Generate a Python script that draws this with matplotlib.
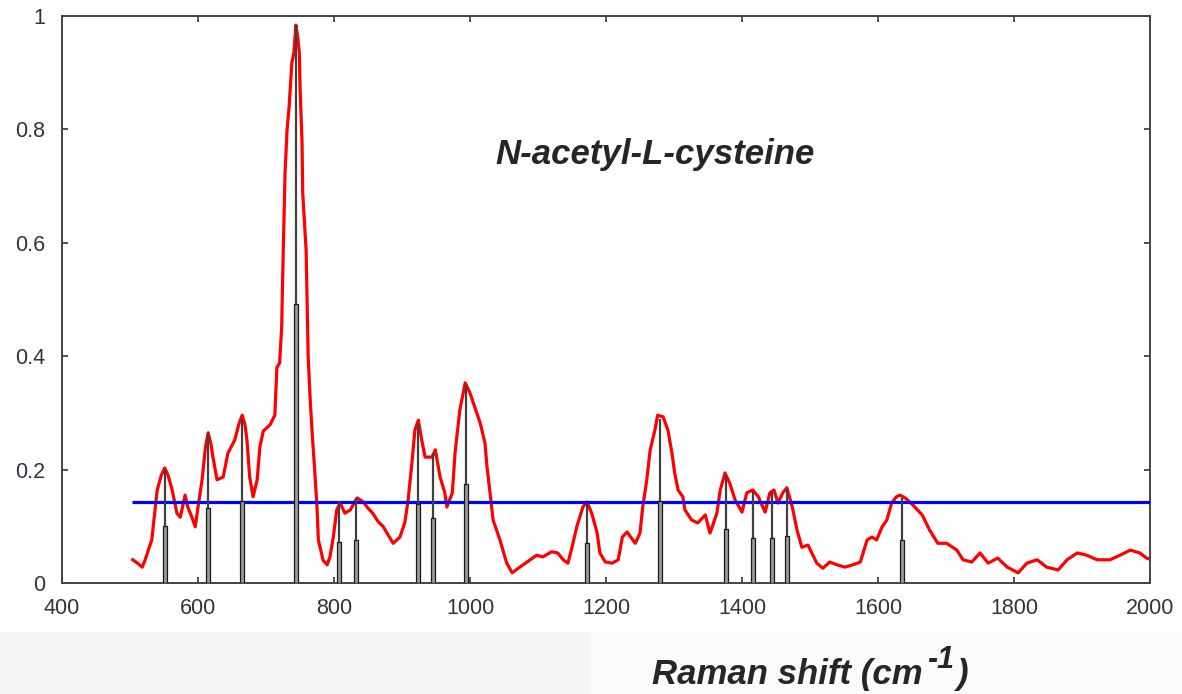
import numpy as np
import matplotlib.pyplot as plt
from matplotlib.patches import Rectangle

plt.rcParams['font.family'] = ['Liberation Sans', 'DejaVu Sans']

# measured Raman spectrum (normalised intensity)
shift = [504, 511, 518, 522, 532, 540, 546, 551, 556, 562, 569, 574, 581, 585, 591, 596,
         600, 606, 611, 615, 619, 622, 628, 637, 644, 654, 660, 665, 669, 672, 676, 681,
         687, 691, 696, 706, 713, 716, 720, 723, 725, 728, 731, 734, 738, 741, 744, 747,
         749, 750, 753, 754, 759, 762, 765, 768, 771, 775, 777, 784, 790, 794, 799, 804,
         809, 816, 824, 834, 843, 850, 857, 865, 872, 878, 887, 897, 904, 909, 915, 919,
         924, 929, 934, 944, 949, 956, 963, 966, 974, 978, 985, 993, 1000, 1007, 1015, 1022,
         1025, 1029, 1034, 1044, 1054, 1062, 1071, 1084, 1098, 1107, 1120, 1129, 1137, 1144,
         1150, 1157, 1166, 1172, 1179, 1187, 1191, 1199, 1209, 1218, 1224, 1231, 1243, 1250,
         1254, 1260, 1265, 1272, 1276, 1284, 1291, 1297, 1301, 1306, 1313, 1316, 1326, 1335,
         1346, 1353, 1363, 1368, 1375, 1382, 1390, 1400, 1407, 1416, 1424, 1434, 1441, 1447,
         1453, 1460, 1466, 1474, 1481, 1488, 1497, 1510, 1519, 1529, 1540, 1551, 1563, 1574,
         1584, 1591, 1598, 1606, 1613, 1620, 1627, 1632, 1640, 1651, 1665, 1676, 1688, 1701,
         1716, 1725, 1738, 1750, 1762, 1776, 1790, 1806, 1819, 1834, 1848, 1865, 1878, 1893,
         1907, 1922, 1941, 1956, 1971, 1985, 1995, 2000]
intensity = [0.041, 0.035, 0.028, 0.040, 0.076, 0.164, 0.190, 0.203, 0.190, 0.164, 0.123, 0.116,
             0.155, 0.134, 0.116, 0.099, 0.134, 0.182, 0.240, 0.265, 0.245, 0.222, 0.182, 0.187,
             0.229, 0.252, 0.280, 0.296, 0.280, 0.252, 0.187, 0.152, 0.182, 0.240, 0.268, 0.279,
             0.296, 0.380, 0.388, 0.450, 0.566, 0.723, 0.800, 0.840, 0.917, 0.935, 0.984, 0.960,
             0.935, 0.878, 0.776, 0.688, 0.587, 0.400, 0.323, 0.262, 0.210, 0.134, 0.076, 0.040,
             0.032, 0.046, 0.081, 0.129, 0.141, 0.123, 0.129, 0.150, 0.143, 0.132, 0.123, 0.108,
             0.100, 0.088, 0.070, 0.081, 0.106, 0.146, 0.217, 0.270, 0.287, 0.252, 0.222, 0.222,
             0.235, 0.187, 0.159, 0.134, 0.159, 0.229, 0.305, 0.353, 0.335, 0.310, 0.282, 0.247,
             0.205, 0.164, 0.111, 0.076, 0.035, 0.018, 0.026, 0.037, 0.049, 0.046, 0.055, 0.053,
             0.041, 0.035, 0.063, 0.099, 0.134, 0.143, 0.123, 0.088, 0.053, 0.037, 0.035, 0.041,
             0.081, 0.090, 0.070, 0.088, 0.134, 0.182, 0.235, 0.270, 0.296, 0.293, 0.270, 0.229,
             0.194, 0.164, 0.152, 0.129, 0.111, 0.106, 0.120, 0.088, 0.123, 0.164, 0.194, 0.176,
             0.146, 0.125, 0.159, 0.164, 0.152, 0.125, 0.159, 0.164, 0.141, 0.159, 0.168, 0.134,
             0.093, 0.063, 0.067, 0.035, 0.026, 0.037, 0.032, 0.028, 0.032, 0.037, 0.076, 0.081,
             0.076, 0.099, 0.111, 0.141, 0.152, 0.155, 0.150, 0.138, 0.120, 0.093, 0.070, 0.070,
             0.058, 0.041, 0.037, 0.053, 0.035, 0.044, 0.028, 0.018, 0.035, 0.041, 0.028, 0.023,
             0.041, 0.053, 0.049, 0.041, 0.041, 0.049, 0.058, 0.053, 0.044, 0.042]

# assigned bands
peak_pos = [551, 615, 665, 744, 807, 833, 923, 946, 994, 1172, 1280, 1376, 1416, 1444, 1466, 1635]
peak_height = [0.20, 0.265, 0.29, 0.985, 0.145, 0.15, 0.28, 0.23, 0.35, 0.14, 0.29, 0.19,
               0.16, 0.16, 0.165, 0.15]

threshold = 0.143
threshold_start = 503

xticks = [400, 600, 800, 1000, 1200, 1400, 1600, 1800, 2000]
yticks = [0, 0.2, 0.4, 0.6, 0.8, 1]

W, H = 1182, 694
fig = plt.figure(figsize=(W / 100, H / 100), dpi=100)
# light strip under the plot
fig.patches.append(Rectangle((0, 0), 590 / W, 62 / H, transform=fig.transFigure,
                             facecolor='#f5f5f5', edgecolor='none', zorder=0))
fig.patches.append(Rectangle((590 / W, 0), 1 - 590 / W, 62 / H, transform=fig.transFigure,
                             facecolor='#fbfbfb', edgecolor='none', zorder=0))

ax = fig.add_axes([62 / W, 111 / H, 1088 / W, 567 / H])

ax.plot(shift, intensity, color='#ff0000', lw=2.3, zorder=2)
ax.hlines(threshold, threshold_start, 2000, color='#0000ff', lw=2.3, zorder=3)

ph = np.array(peak_height)
ax.vlines(peak_pos, 0, ph, color='#404040', lw=1.6, zorder=4)
ax.bar(peak_pos, ph / 2, width=6, facecolor='#9a9a9a', edgecolor='#1a1a1a', lw=0.9, zorder=4)

ax.set_xlim(400, 2000)
ax.set_ylim(0, 1)
ax.set_xticks(xticks)
ax.set_yticks(yticks)
ax.set_yticklabels(['%g' % v for v in yticks])
ax.tick_params(direction='in', length=4, width=1.2, top=True, right=True,
               labelsize=15.5, labelcolor='#333340', color='#333333')
ax.tick_params(axis='x', pad=11)
ax.tick_params(axis='y', pad=12)
for s in ax.spines.values():
    s.set_color('#444444')
    s.set_linewidth(1.4)

ax.text(0.5455, 0.755, 'N-acetyl-L-cysteine', transform=ax.transAxes, ha='center', va='center',
        fontsize=25, fontweight='bold', fontstyle='italic', color='#262626')

# axis title with a full-size superscript, placed piece by piece
lbl = dict(fontweight='bold', fontstyle='italic', color='#262626', va='baseline', ha='left')
base_y = (H - 684) / H
t1 = fig.text(652 / W, base_y, 'Raman shift (cm', fontsize=25, **lbl)
fig.canvas.draw()
x1 = t1.get_window_extent().x1
t2 = fig.text((x1 + 5) / W, base_y + 16 / H, '-1', fontsize=22, **lbl)
fig.canvas.draw()
x2 = t2.get_window_extent().x1
fig.text((x2 + 1) / W, base_y, ')', fontsize=25, **lbl)

fig.savefig('out.png', dpi=100)
